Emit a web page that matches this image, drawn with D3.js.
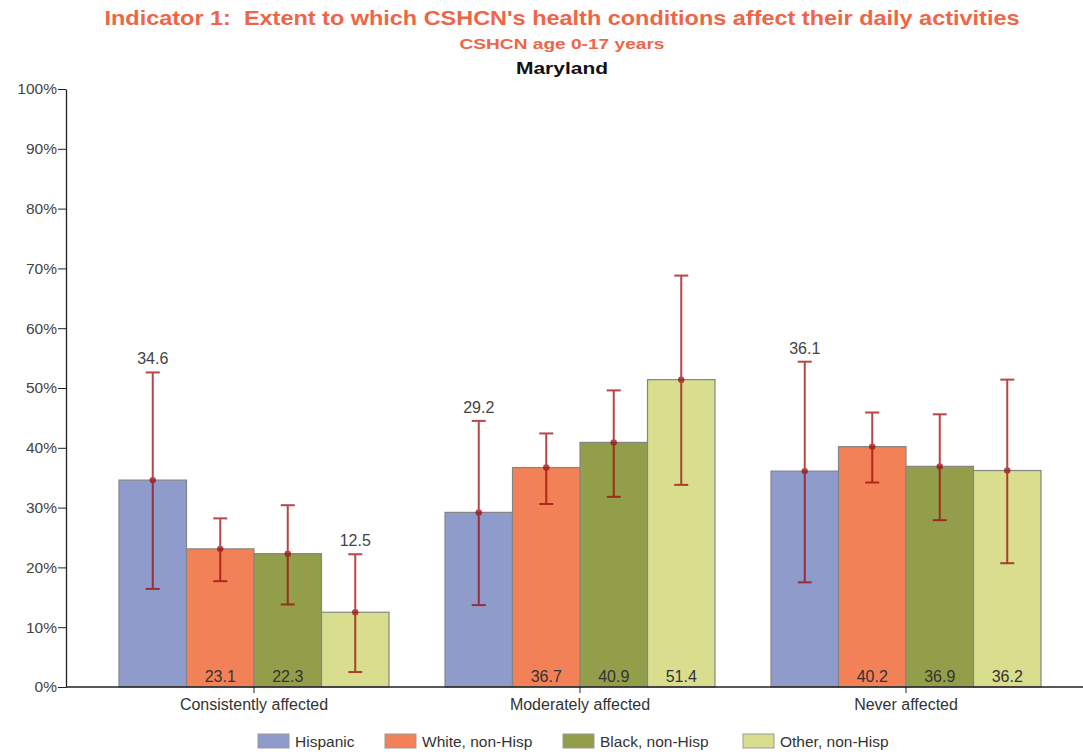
<!DOCTYPE html>
<html><head><meta charset="utf-8">
<script src="https://cdn.jsdelivr.net/npm/d3@7"></script>
<style>
body{margin:0;background:#fff;}
svg{font-family:"Liberation Sans",Arial,sans-serif;}
text{white-space:pre;}
</style></head>
<body><svg id="chart" width="1083" height="752"></svg>
<script>
const categories = ["Consistently affected","Moderately affected","Never affected"];
const seriesNames = ["Hispanic","White, non-Hisp","Black, non-Hisp","Other, non-Hisp"];
const colors = ["#8f9bca","#f28157","#939e4b","#d8de8e"];
const hispanic = [34.6, 29.2, 36.1];
const white = [23.1, 36.7, 40.2];
const black = [22.3, 40.9, 36.9];
const other = [12.5, 51.4, 36.2];
const lowerCI = [[16.4,13.7,17.5],[17.7,30.6,34.2],[13.8,31.8,27.9],[2.5,33.8,20.7]];
const upperCI = [[52.6,44.5,54.4],[28.2,42.4,45.9],[30.4,49.6,45.6],[22.2,68.8,51.4]];
const flagged = [[true,true,true],[false,false,false],[false,false,false],[true,false,false]];
const yTicks = [0,10,20,30,40,50,60,70,80,90,100];

const values = [hispanic, white, black, other];
const svg = d3.select("#chart");
const axisX0 = 66, axisX1 = 1083;
const y = d3.scaleLinear().domain([0,100]).range([687,89]);
const x0 = d3.scaleBand().domain(categories).range([91,1069]).padding(0);
const x1 = d3.scaleBand().domain(seriesNames).range([0,270]);
const groupOffset = (x0.bandwidth()-270)/2;

// titles
svg.append("text").attr("x",562).attr("y",25).attr("text-anchor","middle")
  .attr("fill","#ef6548").attr("font-weight","bold").attr("font-size",21)
  .attr("textLength",915).attr("lengthAdjust","spacingAndGlyphs")
  .text("Indicator 1:  Extent to which CSHCN's health conditions affect their daily activities");
svg.append("text").attr("x",562).attr("y",49).attr("text-anchor","middle")
  .attr("fill","#ef6548").attr("font-weight","bold").attr("font-size",15)
  .attr("textLength",205).attr("lengthAdjust","spacingAndGlyphs")
  .text("CSHCN age 0-17 years");
svg.append("text").attr("x",562).attr("y",74).attr("text-anchor","middle")
  .attr("fill","#111").attr("font-weight","bold").attr("font-size",17)
  .attr("textLength",92).attr("lengthAdjust","spacingAndGlyphs")
  .text("Maryland");

// y axis
const yAxis = d3.axisLeft(y).tickValues(yTicks).tickFormat(d=>d+"%").tickSize(8).tickSizeOuter(0);
const gy = svg.append("g").attr("transform",`translate(${axisX0},0)`).call(yAxis);
gy.select(".domain").attr("stroke","#222").attr("stroke-width",1.3);
gy.selectAll(".tick line").attr("stroke","#222");
gy.selectAll(".tick text").attr("fill","#444").attr("font-size",15.5).attr("x",-9)
  .attr("font-family","Liberation Sans, Arial, sans-serif");

// bars
const groups = svg.append("g").selectAll("g").data(categories).join("g")
  .attr("transform",c=>`translate(${x0(c)+groupOffset},0)`);
seriesNames.forEach((s,si)=>{
  groups.append("rect")
    .attr("x",x1(s)).attr("width",x1.bandwidth())
    .attr("y",(c,ci)=>y(values[si][ci]))
    .attr("height",(c,ci)=>y(0)-y(values[si][ci]))
    .attr("fill",colors[si]).attr("stroke","#858585").attr("stroke-width",1.2);
});

// x axis
const xAxis = d3.axisBottom(x0).tickSize(6).tickSizeOuter(0);
const gx = svg.append("g").attr("transform","translate(0,687)").call(xAxis);
gx.select(".domain").remove();
gx.selectAll(".tick line").attr("stroke","#222");
gx.selectAll(".tick text").attr("fill","#333").attr("font-size",16).attr("y",12)
  .attr("font-family","Liberation Sans, Arial, sans-serif");
svg.append("line").attr("x1",axisX0).attr("x2",axisX1).attr("y1",687).attr("y2",687)
  .attr("stroke","#222").attr("stroke-width",1.3);

// error bars
const ec = "#9c0a0a";
seriesNames.forEach((s,si)=>{
  const cx = (c)=>x0(c)+groupOffset+x1(s)+x1.bandwidth()/2;
  const eg = svg.append("g").attr("opacity",0.75);
  eg.selectAll(".v").data(categories).join("line")
    .attr("x1",cx).attr("x2",cx)
    .attr("y1",(c,ci)=>y(upperCI[si][ci])).attr("y2",(c,ci)=>y(lowerCI[si][ci]))
    .attr("stroke",ec).attr("stroke-width",2);
  ["u","l"].forEach(k=>{
    const arr = k==="u"?upperCI:lowerCI;
    eg.selectAll(".c"+k).data(categories).join("line")
      .attr("x1",c=>cx(c)-7).attr("x2",c=>cx(c)+7)
      .attr("y1",(c,ci)=>y(arr[si][ci])).attr("y2",(c,ci)=>y(arr[si][ci]))
      .attr("stroke",ec).attr("stroke-width",2);
  });
  eg.selectAll("circle").data(categories).join("circle")
    .attr("cx",cx).attr("cy",(c,ci)=>y(values[si][ci])).attr("r",3.2).attr("fill",ec);
  // labels
  svg.append("g").selectAll("text").data(categories).join("text")
    .attr("x",cx)
    .attr("y",(c,ci)=>flagged[si][ci]? y(upperCI[si][ci])-8 : 682)
    .attr("text-anchor","middle").attr("font-size",16)
    .attr("fill",(c,ci)=>flagged[si][ci]?"#444":"#333")
    .text((c,ci)=>values[si][ci].toFixed(1));
});

// legend
const legendX = [258,385,563,743];
const lg = svg.append("g");
seriesNames.forEach((s,si)=>{
  lg.append("rect").attr("x",legendX[si]).attr("y",734).attr("width",31).attr("height",14)
    .attr("fill",colors[si]).attr("stroke","#999").attr("stroke-width",1);
  lg.append("text").attr("x",legendX[si]+37).attr("y",747).attr("font-size",15.5)
    .attr("fill","#333").text(s);
});
</script></body></html>
